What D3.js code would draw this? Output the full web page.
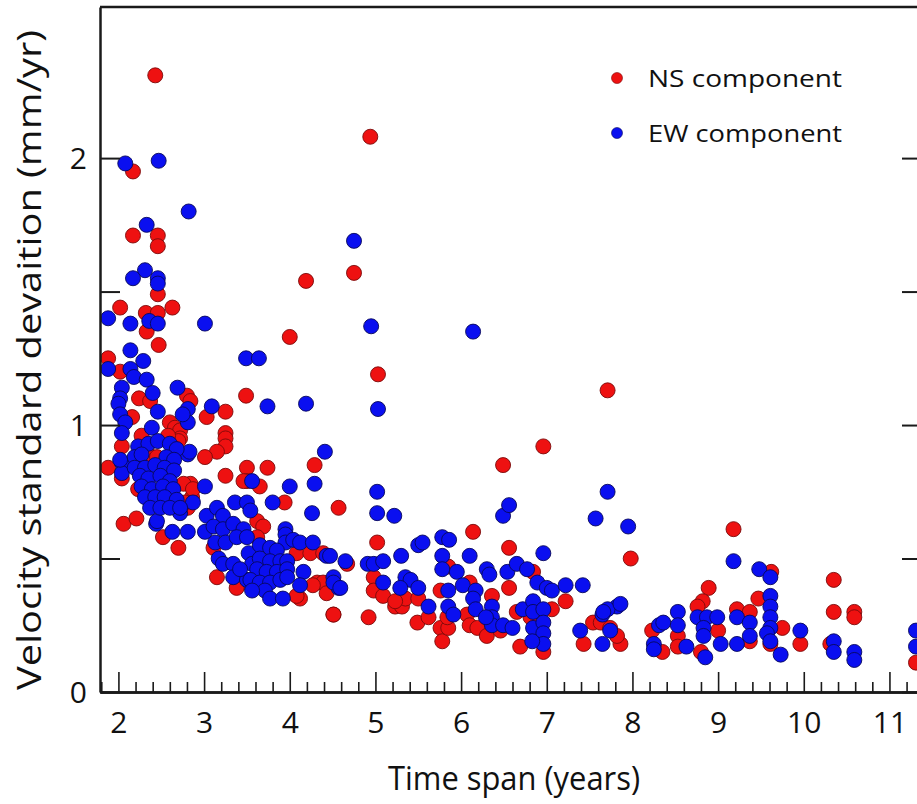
<!DOCTYPE html>
<html>
<head>
<meta charset="utf-8">
<script src="https://cdn.jsdelivr.net/npm/d3@7/dist/d3.min.js"></script>
<style>
html,body{margin:0;padding:0;background:#fff;}
svg{display:block;}
text{font-family:"Open Sans","Noto Sans",sans-serif;fill:#111;}
</style>
</head>
<body>
<svg id="chart" width="917" height="804"></svg>
<script>
// ---- data (time span in years, velocity std in mm/yr) ----
const seriesNames = ["NS component", "EW component"];
const nsTime = [2.43,4.94,2.17,2.17,2.46,2.46,4.19,4.75,2.46,2.02,2.32,2.46,2.63,2.33,4.00,2.47,1.88,2.02,2.24,2.37,2.80,2.84,3.49,5.03,7.71,6.96,6.49,2.16,2.60,2.66,2.72,3.03,3.25,2.72,2.70,2.58,2.27,3.25,3.25,3.25,3.15,3.01,2.04,2.04,1.88,3.50,3.74,3.25,4.29,3.50,3.65,3.46,4.57,3.94,2.84,2.81,2.86,2.78,2.76,2.87,2.35,2.45,2.23,2.06,2.21,2.52,2.70,3.62,3.69,3.11,3.15,3.40,3.38,3.62,4.08,4.24,4.39,4.12,4.51,4.32,4.39,4.27,4.43,4.08,4.67,5.02,4.98,4.98,5.09,5.23,5.31,5.35,5.50,5.23,4.92,4.51,5.76,5.85,6.10,6.14,6.56,6.56,6.84,6.36,5.76,5.78,5.85,5.84,5.49,5.62,6.07,6.10,6.19,6.30,6.46,6.65,6.81,6.69,6.96,7.06,7.22,7.43,7.54,7.86,7.63,7.74,7.82,7.98,9.18,9.62,10.35,9.47,8.89,8.82,8.76,8.23,8.35,8.53,8.53,9.00,8.80,9.22,9.37,9.37,9.75,9.61,9.96,10.35,10.59,10.59,10.31,11.31];
const nsStd  = [2.31,2.08,1.95,1.71,1.71,1.67,1.54,1.57,1.49,1.44,1.42,1.42,1.44,1.35,1.33,1.30,1.25,1.20,1.10,1.09,1.11,1.09,1.11,1.19,1.13,0.92,0.85,1.03,1.01,0.99,0.98,1.03,1.05,0.95,0.94,0.96,0.96,0.97,0.95,0.92,0.90,0.88,0.92,0.80,0.84,0.84,0.84,0.81,0.85,0.79,0.77,0.79,0.69,0.71,0.78,0.69,0.73,0.71,0.78,0.76,0.89,0.88,0.76,0.63,0.65,0.58,0.54,0.64,0.62,0.54,0.43,0.40,0.39,0.58,0.52,0.52,0.52,0.35,0.29,0.41,0.41,0.40,0.37,0.36,0.48,0.56,0.43,0.38,0.36,0.32,0.32,0.35,0.35,0.34,0.28,0.29,0.38,0.47,0.41,0.60,0.54,0.39,0.45,0.36,0.24,0.19,0.24,0.28,0.26,0.28,0.29,0.25,0.24,0.21,0.23,0.30,0.28,0.17,0.15,0.31,0.34,0.18,0.26,0.18,0.26,0.24,0.21,0.50,0.61,0.45,0.42,0.35,0.39,0.34,0.32,0.23,0.15,0.21,0.17,0.23,0.15,0.31,0.30,0.19,0.24,0.18,0.18,0.30,0.30,0.28,0.18,0.11];
const ewTime = [2.08,2.47,2.82,2.33,2.31,2.17,2.46,2.46,4.75,4.95,6.14,1.88,2.14,2.36,2.46,3.01,2.14,2.29,3.49,3.64,1.88,2.14,2.18,2.33,2.04,2.40,2.69,2.02,5.03,4.19,3.74,3.09,2.81,2.00,2.02,2.08,2.46,2.81,2.39,2.75,2.04,2.04,2.04,2.02,2.81,2.83,4.41,3.56,4.00,4.29,3.01,2.87,3.80,4.26,2.72,2.81,2.44,2.63,2.45,
  2.23,2.35,2.46,2.60,2.68,2.19,2.27,2.56,2.65,2.19,2.31,2.43,2.54,2.65,2.25,2.35,2.49,2.60,2.27,2.39,2.52,2.64,2.31,2.43,2.54,2.68,2.37,2.49,2.60,2.72,
  3.03,3.15,3.22,3.36,3.50,3.54,3.01,3.11,3.22,3.34,3.46,3.13,3.25,3.38,3.17,3.22,3.34,3.34,3.52,3.50,3.56,3.50,3.42,
  3.95,3.95,3.95,3.65,3.77,3.85,3.65,3.77,3.89,3.97,3.62,3.73,3.85,3.97,3.54,3.65,3.77,3.89,3.97,3.71,3.77,3.92,3.56,
  4.04,4.12,4.27,4.43,4.16,4.65,4.51,4.57,4.12,4.47,4.51,4.59,
  5.02,5.02,5.22,6.49,6.56,7.57,7.95,7.71,
  5.78,5.86,5.50,5.55,6.96,6.10,5.30,5.78,4.91,4.98,5.09,5.78,5.95,6.30,6.33,6.54,6.65,6.77,6.89,7.00,7.06,7.22,7.42,5.35,5.41,5.50,5.29,5.09,5.62,5.85,6.02,6.17,6.14,6.17,5.85,5.91,6.36,6.36,6.36,6.49,6.60,6.72,6.84,6.84,6.84,6.96,6.96,6.96,6.96,6.83,6.29,7.39,7.65,7.65,7.74,7.82,7.71,7.86,7.66,
  9.18,9.48,9.61,8.53,8.31,8.36,8.25,8.25,8.53,8.63,8.76,8.87,8.99,8.83,8.83,8.85,9.03,9.22,9.37,9.22,9.37,9.61,9.61,9.61,9.61,9.57,9.61,9.73,9.96,10.35,10.35,10.59,10.59,11.31,11.31];
const ewStd = [1.98,1.99,1.80,1.75,1.58,1.55,1.55,1.53,1.69,1.37,1.35,1.40,1.38,1.39,1.38,1.38,1.28,1.24,1.25,1.25,1.21,1.21,1.18,1.17,1.14,1.12,1.14,1.10,1.06,1.08,1.07,1.07,1.06,1.08,1.04,1.01,1.05,1.01,0.99,1.04,0.97,0.86,0.82,0.87,0.89,0.90,0.90,0.79,0.77,0.78,0.77,0.71,0.71,0.67,0.67,0.60,0.63,0.60,0.64,
  0.92,0.93,0.94,0.93,0.91,0.88,0.89,0.88,0.87,0.84,0.84,0.85,0.84,0.83,0.81,0.80,0.81,0.79,0.77,0.76,0.77,0.76,0.73,0.73,0.73,0.72,0.69,0.69,0.69,0.69,
  0.66,0.69,0.66,0.71,0.71,0.68,0.60,0.62,0.61,0.63,0.61,0.56,0.56,0.58,0.50,0.48,0.48,0.43,0.52,0.58,0.48,0.42,0.46,
  0.61,0.59,0.56,0.55,0.54,0.53,0.50,0.49,0.49,0.49,0.46,0.45,0.45,0.46,0.42,0.41,0.41,0.42,0.43,0.38,0.35,0.35,0.38,
  0.57,0.56,0.56,0.51,0.45,0.49,0.43,0.39,0.40,0.51,0.41,0.39,
  0.75,0.67,0.66,0.66,0.70,0.65,0.62,0.75,
  0.58,0.57,0.55,0.56,0.52,0.51,0.51,0.51,0.48,0.48,0.49,0.46,0.45,0.46,0.44,0.45,0.48,0.46,0.41,0.39,0.38,0.40,0.40,0.43,0.42,0.39,0.39,0.41,0.32,0.38,0.40,0.38,0.35,0.31,0.32,0.29,0.32,0.28,0.25,0.25,0.24,0.31,0.34,0.30,0.24,0.31,0.26,0.22,0.18,0.19,0.28,0.23,0.29,0.18,0.23,0.32,0.31,0.33,0.30,
  0.49,0.46,0.43,0.30,0.25,0.26,0.18,0.16,0.25,0.17,0.28,0.28,0.28,0.24,0.21,0.13,0.18,0.28,0.26,0.18,0.21,0.36,0.32,0.28,0.24,0.22,0.19,0.14,0.23,0.19,0.15,0.15,0.12,0.23,0.17];
const xMajorTicks = [2,3,4,5,6,7,8,9,10,11];
const yTicks = [0,0.5,1,1.5,2];
const yTickLabels = [0,1,2];
const xTitle = "Time span (years)";
const yTitle = "Velocity standard devaition (mm/yr)";

// ---- chart ----
const svg = d3.select("#chart");
const x = d3.scaleLinear().domain([1.785, 11.38]).range([100, 922]);
const y = d3.scaleLinear().domain([0, 2.566]).range([692, 7]);
const colors = {NS: {fill:"#ee1111", stroke:"#7a0a0a"}, EW: {fill:"#0a0ff0", stroke:"#08085a"}};

const plot = svg.append("g");
const ns = nsTime.map((t,i)=>({t, s:nsStd[i]}));
const ew = ewTime.map((t,i)=>({t, s:ewStd[i]}));

plot.selectAll("circle.ns").data(ns).join("circle").attr("class","ns")
  .attr("cx",d=>x(d.t)).attr("cy",d=>y(d.s)).attr("r",7.5)
  .attr("fill",colors.NS.fill).attr("stroke",colors.NS.stroke).attr("stroke-width",0.9);
plot.selectAll("circle.ew").data(ew).join("circle").attr("class","ew")
  .attr("cx",d=>x(d.t)).attr("cy",d=>y(d.s)).attr("r",7.5)
  .attr("fill",colors.EW.fill).attr("stroke",colors.EW.stroke).attr("stroke-width",0.9);

// frame
const axisColor = "#1a1a1a";
svg.append("line").attr("x1",x.range()[0]).attr("x2",x.range()[1]).attr("y1",y.range()[1]).attr("y2",y.range()[1])
  .attr("stroke",axisColor).attr("stroke-width",2.5);

// x axis: minor + major ticks inward
const xMinor = d3.range(1.8, 11.3, 0.2).filter(v => Math.abs(v - Math.round(v)) > 1e-6);
const gxMinor = svg.append("g").attr("transform",`translate(0,${y(0)})`)
  .call(d3.axisBottom(x).tickValues(xMinor).tickSize(-10).tickSizeOuter(0).tickFormat(""));
const gx = svg.append("g").attr("transform",`translate(0,${y(0)})`)
  .call(d3.axisBottom(x).tickValues(xMajorTicks).tickSize(-20).tickSizeOuter(0).tickPadding(32).tickFormat(d3.format("d")));
[gxMinor,gx].forEach(g=>{
  g.select(".domain").attr("stroke",axisColor).attr("stroke-width",2.5);
  g.selectAll(".tick line").attr("stroke",axisColor).attr("stroke-width",1.6);
});
gx.selectAll(".tick text").attr("font-size",30).attr("fill","#111").attr("dy","0.3em")
  .style("font-family","'Open Sans',sans-serif");

// y axis left
const gy = svg.append("g").attr("transform",`translate(${x.range()[0]},0)`)
  .call(d3.axisRight(y).tickValues(yTicks).tickSize(20).tickSizeOuter(0).tickFormat(""));
gy.select(".domain").attr("stroke",axisColor).attr("stroke-width",2.5);
gy.selectAll(".tick line").attr("stroke",axisColor).attr("stroke-width",2);
svg.append("g").selectAll("text").data(yTickLabels).join("text")
  .attr("x",x.range()[0]-13).attr("y",d=>y(d)).attr("dy","0.36em")
  .attr("text-anchor","end").attr("font-size",30).text(d=>d);

// y axis right
const gyr = svg.append("g").attr("transform",`translate(${x.range()[1]},0)`)
  .call(d3.axisLeft(y).tickValues(yTicks).tickSize(20).tickSizeOuter(0).tickFormat(""));
gyr.select(".domain").attr("stroke",axisColor).attr("stroke-width",2.5);
gyr.selectAll(".tick line").attr("stroke",axisColor).attr("stroke-width",2);

// titles
svg.append("text").attr("x",514).attr("y",790).attr("text-anchor","middle")
  .attr("font-size",32).attr("textLength",252).attr("lengthAdjust","spacingAndGlyphs").text(xTitle);
svg.append("text").attr("transform","translate(41,360) rotate(-90)").attr("text-anchor","middle")
  .attr("font-size",32).attr("textLength",660).attr("lengthAdjust","spacingAndGlyphs").text(yTitle);

// legend
const legend = svg.append("g");
[["NS",78],["EW",133]].forEach(([k,yy],i)=>{
  legend.append("circle").attr("cx",617).attr("cy",yy).attr("r",5.5)
    .attr("fill",colors[k].fill).attr("stroke",colors[k].stroke).attr("stroke-width",0.6);
  legend.append("text").attr("x",648).attr("y",yy).attr("dy","0.36em")
    .attr("font-size",24).attr("textLength",194).attr("lengthAdjust","spacingAndGlyphs").text(seriesNames[i]);
});
</script>
</body>
</html>
